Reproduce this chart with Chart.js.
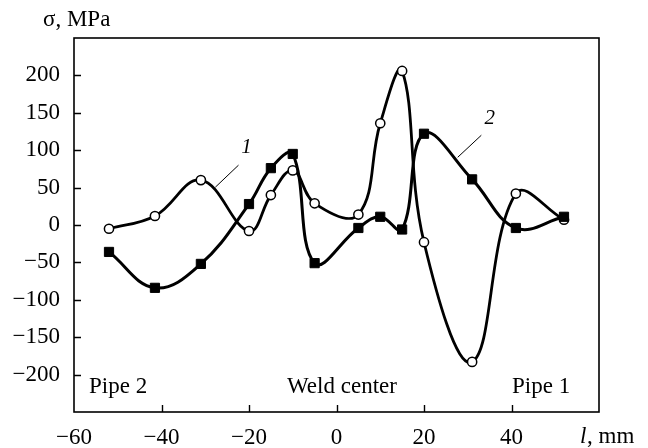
<!DOCTYPE html>
<html>
<head>
<meta charset="utf-8">
<script src="https://cdn.jsdelivr.net/npm/chart.js@4.4.0/dist/chart.umd.min.js"></script>
<style>
  html, body { margin: 0; padding: 0; background: #fff; }
  #wrap { width: 648px; height: 448px; }
</style>
</head>
<body>
<div id="wrap"><canvas id="myChart"></canvas></div>
<script>
// distance from weld center, mm
const positions = [-52, -41.5, -31, -20, -15, -10, -5, 5, 10, 15, 20, 31, 41, 52];
// curve 1 (open circles), MPa
const curve1 = [-5, 12, 60, -8, 40, 73, 29, 14, 136, 206, -23, -183, 42, 7];
// curve 2 (filled squares), MPa
const curve2 = [-36, -84, -52, 28, 76, 95, -51, -4, 11, -6, 122, 61, -4, 11];
const xTicks = [-60, -40, -20, 0, 20, 40];
const yTicks = [-200, -150, -100, -50, 0, 50, 100, 150, 200];

const FONT = '"Liberation Serif", "Times New Roman", serif';
const minus = v => String(v).replace('-', '\u2212');

const pts = ys => positions.map((x, i) => ({ x: x, y: ys[i] }));

const frame = {
  id: 'frame',
  afterDraw(chart) {
    const { ctx, chartArea: a, scales: { x, y } } = chart;
    ctx.save();
    ctx.strokeStyle = '#000';
    ctx.lineWidth = 1.6;
    ctx.strokeRect(a.left, a.top, a.right - a.left, a.bottom - a.top);

    // inward ticks
    ctx.lineWidth = 1.4;
    ctx.beginPath();
    yTicks.forEach(v => {
      const py = Math.round(y.getPixelForValue(v)) + 0.5;
      ctx.moveTo(a.left, py);
      ctx.lineTo(a.left + 7, py);
    });
    xTicks.forEach(v => {
      if (v === -60) return;
      const px = Math.round(x.getPixelForValue(v)) + 0.5;
      ctx.moveTo(px, a.bottom);
      ctx.lineTo(px, a.bottom - 7);
    });
    ctx.stroke();

    // curve leaders
    ctx.lineWidth = 1;
    ctx.beginPath();
    ctx.moveTo(x.getPixelForValue(-22.4), y.getPixelForValue(80));
    ctx.lineTo(x.getPixelForValue(-27.7), y.getPixelForValue(50.5));
    ctx.moveTo(x.getPixelForValue(33.1), y.getPixelForValue(120));
    ctx.lineTo(x.getPixelForValue(27.7), y.getPixelForValue(90.5));
    ctx.stroke();

    ctx.fillStyle = '#000';
    ctx.textBaseline = 'alphabetic';
    ctx.textAlign = 'left';
    ctx.font = '23px ' + FONT;
    ctx.fillText('\u03c3, MPa', 43, 26);
    ctx.fillText('Pipe 2', 89, 393);
    ctx.fillText('Weld center', 287, 393);
    ctx.fillText('Pipe 1', 512, 393);
    ctx.fillText(', mm', 587, 443);
    ctx.font = 'italic 23px ' + FONT;
    ctx.fillText('l', 580, 443);

    ctx.textAlign = 'center';
    ctx.textBaseline = 'middle';
    ctx.font = 'italic 21px ' + FONT;
    ctx.fillText('1', x.getPixelForValue(-20.6), y.getPixelForValue(104));
    ctx.fillText('2', x.getPixelForValue(35), y.getPixelForValue(143));
    ctx.restore();
  }
};

const config = {
  type: 'line',
  data: {
    datasets: [{
      label: '2',
      data: pts(curve2),
      borderColor: '#000',
      backgroundColor: '#000',
      borderWidth: 3,
      tension: 0.4,
      pointStyle: 'rect',
      pointRadius: 6.5,
      pointBorderWidth: 1,
      pointBackgroundColor: '#000'
    }, {
      label: '1',
      data: pts(curve1),
      borderColor: '#000',
      backgroundColor: '#fff',
      borderWidth: 2.8,
      tension: 0.4,
      pointStyle: 'circle',
      pointRadius: 4.6,
      pointBorderWidth: 1.5,
      pointBackgroundColor: '#fff'
    }]
  },
  options: {
    responsive: true,
    maintainAspectRatio: false,
    animation: false,
    devicePixelRatio: 1,
    layout: { padding: { top: 38, right: 49, left: 0, bottom: 0 } },
    plugins: { legend: { display: false }, tooltip: { enabled: false } },
    scales: {
      x: {
        type: 'linear',
        min: -60, max: 60,
        grid: { display: false },
        border: { display: false },
        afterBuildTicks: s => { s.ticks = xTicks.map(v => ({ value: v })); },
        afterFit: s => { s.height = 36; },
        ticks: {
          padding: 4,
          color: '#000',
          font: { family: FONT, size: 23 },
          maxRotation: 0,
          autoSkip: false,
          callback: v => minus(v)
        }
      },
      y: {
        min: -250, max: 250,
        grid: { display: false },
        border: { display: false },
        afterBuildTicks: s => { s.ticks = yTicks.map(v => ({ value: v })); },
        afterFit: s => { s.width = 74; },
        ticks: {
          padding: 6,
          color: '#000',
          font: { family: FONT, size: 23 },
          autoSkip: false,
          callback: v => minus(v)
        }
      }
    }
  },
  plugins: [frame]
};

new Chart(document.getElementById('myChart'), config);
</script>
</body>
</html>
